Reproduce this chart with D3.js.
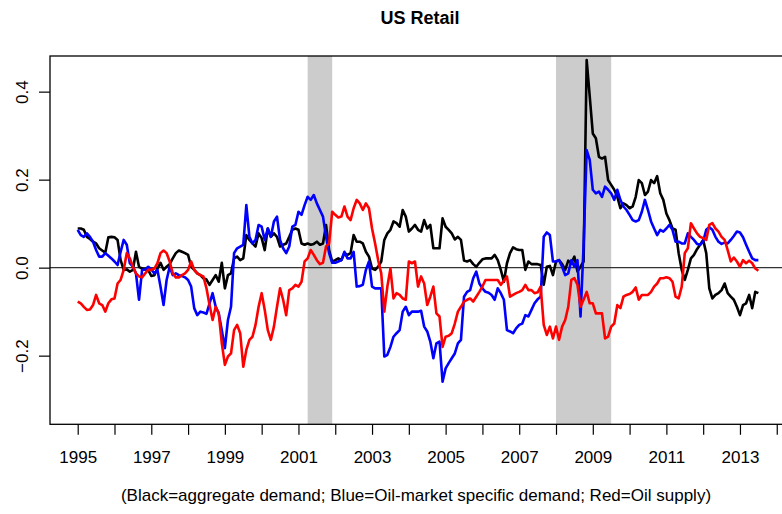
<!DOCTYPE html>
<html>
<head>
<meta charset="utf-8">
<script src="https://cdn.jsdelivr.net/npm/d3@7"></script>
<style>
  body { margin: 0; background: #fff; }
  svg { display: block; font-family: "Liberation Sans", Arial, Helvetica, sans-serif; }
</style>
</head>
<body>
<svg></svg>
<script>
// Svg element dimensions
const width = 782;
const height = 514;

// Monthly series, Jan 1995 - Jul 2013
const startYear = 1995;

const aggDemand = [
  0.089, 0.089, 0.086, 0.070, 0.065, 0.059, 0.055, 0.044, 0.039, 0.034, 0.069, 0.070,
  0.069, 0.063, 0.017, -0.005, -0.004, -0.009, -0.005, 0.036, 0.002, -0.002, -0.004, -0.005,
  -0.019, -0.017, -0.002, 0.011, -0.005, 0.002, 0.008, 0.021, 0.033, 0.039, 0.036, 0.033,
  0.029, 0.002, -0.005, -0.013, -0.017, -0.024, -0.027, -0.039, -0.028, -0.017, -0.032, 0.011,
  -0.047, -0.017, -0.013, 0.021, 0.025, 0.017, 0.021, 0.074, 0.063, 0.055, 0.048, 0.078,
  0.067, 0.040, 0.089, 0.070, 0.078, 0.070, 0.048, 0.052, 0.055, 0.070, 0.086, 0.089,
  0.086, 0.055, 0.052, 0.055, 0.052, 0.054, 0.059, 0.052, 0.055, 0.097, 0.040, 0.014,
  0.017, 0.021, 0.017, 0.033, 0.029, 0.033, 0.074, 0.059, 0.059, 0.055, 0.036, 0.025,
  -0.002, -0.005, 0.002, 0.014, 0.063, 0.078, 0.086, 0.105, 0.101, 0.093, 0.131, 0.116,
  0.082, 0.089, 0.097, 0.086, 0.082, 0.108, 0.089, 0.097, 0.044, 0.044, 0.044, 0.112,
  0.093, 0.086, 0.078, 0.064, 0.070, 0.063, 0.016, 0.014, 0.017, 0.008, 0.002, 0.011,
  0.019, 0.021, 0.021, 0.021, 0.029, 0.017, -0.005, -0.032, 0.010, 0.033, 0.046, 0.042,
  0.040, 0.040, -0.005, 0.014, 0.008, 0.008, 0.008, 0.006, -0.039, 0.002, 0.004, -0.017,
  0.014, 0.017, 0.008, -0.005, 0.016, 0.010, 0.025, -0.009, 0.002, 0.014, 0.472, 0.389,
  0.305, 0.294, 0.252, 0.248, 0.252, 0.199, 0.188, 0.177, 0.161, 0.135, 0.146, 0.142,
  0.135, 0.139, 0.161, 0.199, 0.192, 0.165, 0.173, 0.199, 0.192, 0.208, 0.169, 0.154,
  0.123, 0.108, 0.089, 0.086, 0.033, -0.005, -0.028, -0.005, 0.021, 0.029, 0.042, 0.052,
  0.063, 0.033, -0.047, -0.070, -0.062, -0.058, -0.051, -0.036, -0.058, -0.066, -0.073, -0.089,
  -0.108, -0.085, -0.081, -0.062, -0.092, -0.055, -0.058
];

const oilDemand = [
  0.086, 0.074, 0.070, 0.078, 0.070, 0.059, 0.040, 0.025, 0.025, 0.033, 0.027, 0.021,
  0.014, 0.006, 0.036, 0.063, 0.052, 0.010, 0.002, -0.013, -0.073, -0.005, -0.004, 0.002,
  -0.004, -0.013, -0.005, -0.043, -0.085, -0.028, 0.002, -0.017, -0.013, -0.017, -0.019, -0.022,
  -0.028, -0.043, -0.092, -0.108, -0.100, -0.102, -0.105, -0.081, -0.058, -0.089, -0.104, -0.142,
  -0.183, -0.119, -0.089, 0.033, 0.044, 0.048, 0.052, 0.142, 0.070, 0.055, 0.063, 0.097,
  0.093, 0.063, 0.089, 0.070, 0.105, 0.116, 0.063, 0.044, 0.033, 0.048, 0.093, 0.097,
  0.127, 0.120, 0.142, 0.161, 0.154, 0.165, 0.146, 0.131, 0.116, 0.070, 0.033, 0.011,
  0.011, 0.014, 0.017, 0.036, 0.021, 0.021, 0.036, -0.043, -0.042, -0.039, -0.005, 0.014,
  -0.043, -0.047, -0.047, -0.047, -0.202, -0.198, -0.180, -0.157, -0.149, -0.142, -0.100, -0.089,
  -0.108, -0.100, -0.100, -0.100, -0.098, -0.134, -0.145, -0.168, -0.206, -0.172, -0.168, -0.259,
  -0.229, -0.217, -0.206, -0.195, -0.172, -0.164, -0.066, -0.055, -0.051, -0.024, -0.009, -0.036,
  -0.047, -0.055, -0.057, -0.062, -0.073, -0.047, -0.058, -0.073, -0.142, -0.145, -0.149, -0.138,
  -0.130, -0.127, -0.108, -0.111, -0.096, -0.081, -0.072, -0.066, 0.070, 0.080, 0.074, 0.014,
  0.014, 0.017, 0.002, -0.017, -0.013, 0.017, 0.002, 0.017, -0.111, 0.050, 0.267, 0.245,
  0.177, 0.169, 0.173, 0.161, 0.184, 0.177, 0.169, 0.154, 0.177, 0.154, 0.139, 0.131,
  0.120, 0.108, 0.105, 0.108, 0.127, 0.154, 0.131, 0.105, 0.089, 0.074, 0.086, 0.082,
  0.089, 0.097, 0.086, 0.059, 0.059, 0.055, 0.055, 0.078, 0.070, 0.063, 0.054, 0.052,
  0.059, 0.086, 0.092, 0.086, 0.070, 0.059, 0.054, 0.057, 0.055, 0.063, 0.072, 0.082,
  0.080, 0.069, 0.052, 0.036, 0.021, 0.017, 0.017
];

const oilSupply = [
  -0.077, -0.081, -0.089, -0.096, -0.095, -0.085, -0.062, -0.081, -0.085, -0.100, -0.081, -0.072,
  -0.070, -0.036, -0.028, -0.005, 0.033, 0.021, 0.002, -0.013, -0.020, -0.022, -0.013, -0.005,
  -0.005, -0.002, 0.010, 0.033, 0.039, 0.033, 0.014, -0.013, -0.022, -0.022, -0.017, -0.013,
  -0.005, 0.014, -0.005, -0.013, -0.017, -0.020, -0.047, -0.085, -0.119, -0.089, -0.104, -0.172,
  -0.221, -0.202, -0.195, -0.142, -0.130, -0.149, -0.225, -0.187, -0.164, -0.157, -0.130, -0.089,
  -0.058, -0.096, -0.142, -0.164, -0.134, -0.089, -0.047, -0.073, -0.108, -0.051, -0.047, -0.039,
  -0.043, -0.032, 0.014, 0.021, 0.040, 0.029, 0.017, 0.008, 0.011, 0.048, 0.055, 0.127,
  0.120, 0.114, 0.116, 0.139, 0.116, 0.108, 0.135, 0.154, 0.146, 0.131, 0.146, 0.135,
  0.089, 0.055, 0.017, -0.013, -0.100, -0.043, -0.002, -0.070, -0.058, -0.062, -0.070, -0.073,
  0.014, 0.010, 0.014, -0.043, -0.020, -0.036, -0.085, -0.066, -0.043, -0.104, -0.111, -0.180,
  -0.157, -0.155, -0.149, -0.127, -0.100, -0.089, -0.077, -0.073, -0.070, -0.077, -0.066, -0.055,
  -0.043, -0.028, -0.028, -0.028, -0.028, -0.028, -0.039, -0.030, -0.020, -0.066, -0.062, -0.058,
  -0.055, -0.051, -0.039, -0.051, -0.051, -0.058, -0.056, -0.043, -0.130, -0.153, -0.134, -0.161,
  -0.134, -0.164, -0.134, -0.119, -0.089, -0.028, -0.024, -0.039, -0.089, -0.073, -0.055, -0.081,
  -0.081, -0.104, -0.104, -0.104, -0.161, -0.157, -0.134, -0.127, -0.085, -0.092, -0.066, -0.062,
  -0.060, -0.055, -0.045, -0.073, -0.062, -0.062, -0.062, -0.055, -0.043, -0.036, -0.024, -0.024,
  -0.022, -0.024, -0.032, -0.066, -0.070, -0.043, 0.033, 0.044, 0.101, 0.089, 0.078, 0.070,
  0.067, 0.063, 0.097, 0.101, 0.089, 0.082, 0.070, 0.063, 0.040, 0.014, 0.023, 0.014,
  0.002, 0.017, 0.010, 0.016, 0.010, -0.002, -0.007
];

// Recession bands (fractional years)
const recessionStart = [2001.25, 2008.0];
const recessionEnd = [2001.917, 2009.5];

// Axis ticks
const xTicks = d3.range(1995, 2015);
const yTicks = [-0.2, 0.0, 0.2, 0.4];

const seriesColors = ["black", "blue", "red"];
const subtitle = "(Black=aggregate demand; Blue=Oil-market specific demand; Red=Oil supply)";

// Set up svg element
const svg = d3.select("svg").attr("width", width).attr("height", height);

// Plot region (right side of the box runs off the picture)
const plot = { left: 50, right: 790, top: 56, bottom: 424.3 };

const xScale = d3.scaleLinear().domain([1994.247, 2014.36]).range([plot.left, plot.right]);
const yScale = d3.scaleLinear().domain([-0.356, 0.481]).range([plot.bottom, plot.top]);

const toPoints = (values) => values.map((v, i) => ({ t: startYear + i / 12, v }));
const series = [aggDemand, oilDemand, oilSupply].map(toPoints);

// Recession shading
svg.selectAll("rect.band")
  .data(recessionStart.map((s, i) => ({ s, e: recessionEnd[i] })))
  .enter()
  .append("rect")
  .attr("class", "band")
  .attr("x", (d) => xScale(d.s))
  .attr("width", (d) => xScale(d.e) - xScale(d.s))
  .attr("y", plot.top)
  .attr("height", plot.bottom - plot.top)
  .attr("fill", "#cccccc");

// Zero line
svg.append("line")
  .attr("x1", plot.left)
  .attr("x2", plot.right)
  .attr("y1", yScale(0))
  .attr("y2", yScale(0))
  .attr("stroke", "#333")
  .attr("stroke-width", 1.2);

// Lines
const line = d3.line().x((d) => xScale(d.t)).y((d) => yScale(d.v));

svg.selectAll("path.series")
  .data(series)
  .enter()
  .append("path")
  .attr("class", "series")
  .attr("d", line)
  .attr("fill", "none")
  .attr("stroke", (d, i) => seriesColors[i])
  .attr("stroke-width", 2.6)
  .attr("stroke-linejoin", "round");

// Box
svg.append("rect")
  .attr("x", plot.left)
  .attr("y", plot.top)
  .attr("width", plot.right - plot.left)
  .attr("height", plot.bottom - plot.top)
  .attr("fill", "none")
  .attr("stroke", "black")
  .attr("stroke-width", 1.3);

// X axis: tick every year, label odd years
const xAxis = d3.axisBottom(xScale)
  .tickValues(xTicks)
  .tickSize(10.5)
  .tickPadding(16)
  .tickFormat((d) => (d % 2 === 1 ? String(d) : ""));

const xAxisG = svg.append("g")
  .attr("transform", `translate(0, ${plot.bottom})`)
  .call(xAxis);
xAxisG.select(".domain").remove();
xAxisG.selectAll(".tick line").attr("stroke-width", 1.2);
xAxisG.selectAll("text").attr("font-size", 17).attr("font-family", null).attr("fill", "black");

// Y axis, rotated labels
const yAxis = d3.axisLeft(yScale)
  .tickValues(yTicks)
  .tickSize(11)
  .tickFormat(d3.format(".1f"));

const yAxisG = svg.append("g")
  .attr("transform", `translate(${plot.left}, 0)`)
  .call(yAxis);
yAxisG.select(".domain").remove();
yAxisG.selectAll(".tick line").attr("stroke-width", 1.2);
yAxisG.selectAll("text")
  .attr("transform", "rotate(-90)")
  .attr("x", 0)
  .attr("y", -22)
  .attr("dy", 0)
  .attr("text-anchor", "middle")
  .attr("font-size", 17)
  .attr("font-family", null)
  .attr("fill", "black");

// Title and note
const centerX = (plot.left + plot.right) / 2;

svg.append("text")
  .attr("x", centerX)
  .attr("y", 24)
  .attr("text-anchor", "middle")
  .attr("font-size", 18)
  .attr("font-weight", "bold")
  .text("US Retail");

svg.append("text")
  .attr("x", centerX - 4)
  .attr("y", 501)
  .attr("text-anchor", "middle")
  .attr("font-size", 17)
  .text(subtitle);
</script>
</body>
</html>
